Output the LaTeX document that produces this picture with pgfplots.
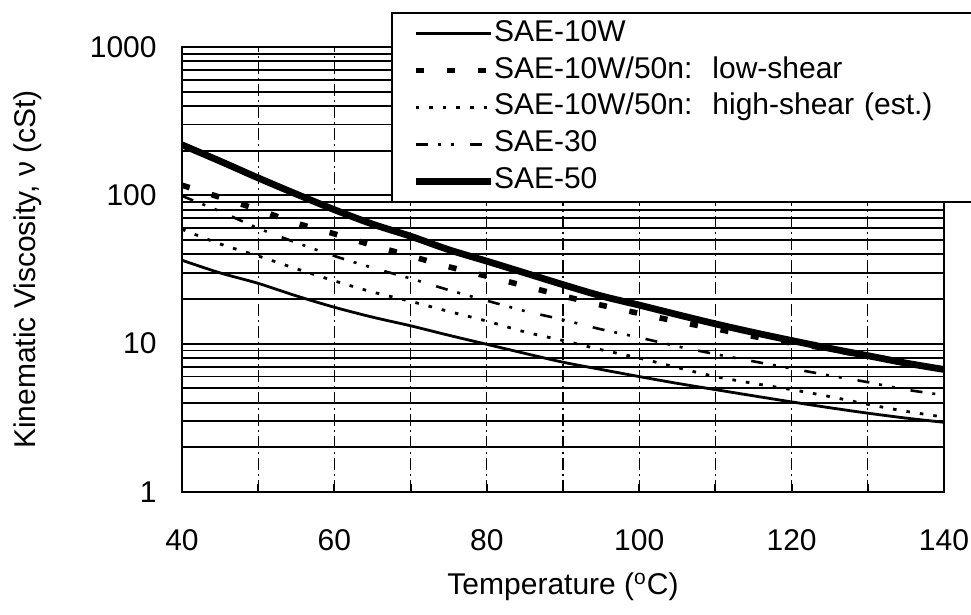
\documentclass[border=0pt]{standalone}
\usepackage{fontspec}
\setmainfont{Liberation Sans}
\usepackage{pgfplots}
\pgfplotsset{compat=1.18}

\begin{document}
\begin{tikzpicture}
\useasboundingbox (-91pt,-61.5pt) rectangle (394.5pt,246pt);
\begin{axis}[
    scale only axis,
    width=381pt, height=222.5pt,
    xmin=40, xmax=140,
    ymode=log, log basis y=10,
    ymin=1, ymax=1000,
    xtick={40,60,...,140},
    minor xtick={50,70,90,110,130},
    ytick={1,10,100,1000},
    yticklabels={1,10,100,1000},
    minor ytick={2,3,4,5,6,7,8,9,20,30,40,50,60,70,80,90,200,300,400,500,600,700,800,900},
    font=\fontsize{15}{18}\selectfont,
    /pgf/number format/assume math mode=true,
    grid=both,
    major x grid style={black, line width=0.6pt, dash pattern=on 6pt off 2pt on 1pt off 2pt},
    minor x grid style={black, line width=0.6pt, dash pattern=on 6pt off 2pt on 1pt off 2pt},
    major y grid style={black, line width=0.9pt},
    minor y grid style={black, line width=0.9pt},
    axis line style={black, line width=1.4pt},
    tick align=inside, xtick pos=bottom, ytick pos=left,
    major tick length=4pt, minor tick length=4pt,
    y tick style={draw=none},
    tick style={black, line width=1pt},
    xticklabel style={anchor=center, yshift=-24pt},
    yticklabel style={anchor=east, inner sep=0pt, xshift=-12.5pt},
    xlabel={Temperature (\textsuperscript{o}C)},
    ylabel={Kinematic Viscosity, ν (cSt)},
    xlabel style={at={(axis description cs:0.5,0)}, anchor=center, yshift=-47.5pt},
    ylabel style={at={(axis description cs:0,0.5)}, anchor=center, yshift=77pt},
    legend cell align=left,
    legend image code/.code={\draw[#1] (0pt,0pt) -- (37.5pt,0pt);},
    legend style={
        at={(axis description cs:0.2743,1.0787)}, anchor=north west,
        draw=black, line width=1.2pt, fill=white,
        inner xsep=10pt, inner ysep=3pt,
        row sep=3.95pt,
        nodes={inner sep=0pt, text width=240pt, text height=11pt, text depth=3.5pt},
        /tikz/every even column/.append style={column sep=1pt},
        font=\fontsize{15}{18}\selectfont,
    },
]
% SAE-10W
\addplot[black, line width=1.4pt, smooth] coordinates {
    (40,36.5) (45,30) (50,25.5) (55,21) (60,17.6) (65,15.1) (70,13.2) (75,11.4)
    (80,9.9) (85,8.6) (90,7.5) (95,6.7) (100,6.0) (105,5.4) (110,4.9) (115,4.45)
    (120,4.05) (125,3.7) (130,3.4) (135,3.15) (140,2.95)
};
\addlegendentry{SAE-10W}
% SAE-10W/50n low-shear
\addplot[black, line width=2.8pt, dash pattern=on 4pt off 11.5pt, smooth] coordinates {
    (40,117) (45,97) (50,80) (55,65) (60,55) (65,46) (70,39) (75,33) (80,28.5)
    (85,24.5) (90,21) (95,18.2) (100,16) (105,14.1) (110,12.6) (115,11.2)
    (120,10.1) (125,9.2) (130,8.2)
};
\addlegendentry{SAE-10W/50n:\ \ low-shear}
% SAE-10W/50n high-shear
\addplot[black, line width=1.4pt, dash pattern=on 1.8pt off 5pt, smooth] coordinates {
    (40,59) (45,47) (50,39) (55,32) (60,26.5) (65,22.3) (70,19.3) (75,16.5)
    (80,14.2) (85,12) (90,10.5) (95,9.1) (100,8) (105,6.9) (110,6.0) (115,5.4)
    (120,4.9) (125,4.4) (130,3.9) (135,3.5) (140,3.2)
};
\addlegendentry{SAE-10W/50n:\ \ high-shear (est.)}
% SAE-30
\addplot[black, line width=1.3pt, dash pattern=on 6pt off 5pt on 1.5pt off 5pt on 1.5pt off 8pt, smooth] coordinates {
    (40,99) (45,78) (50,60) (55,48) (60,39) (65,32.5) (70,27.5) (75,23) (80,19.5)
    (85,16.6) (90,14.5) (95,12.5) (100,11) (105,9.6) (110,8.5) (115,7.6)
    (120,6.8) (125,6.1) (130,5.5) (135,4.9) (140,4.5)
};
\addlegendentry{SAE-30}
% SAE-50
\addplot[black, line width=3.4pt, smooth] coordinates {
    (40,219) (45,170) (50,131) (55,102) (60,80) (65,64) (70,53) (75,43) (80,36)
    (85,30) (90,25) (95,21) (100,18.2) (105,15.7) (110,13.6) (115,11.9)
    (120,10.5) (125,9.3) (130,8.3) (135,7.4) (140,6.7)
};
\addlegendentry{SAE-50}
\end{axis}
\end{tikzpicture}
\end{document}
